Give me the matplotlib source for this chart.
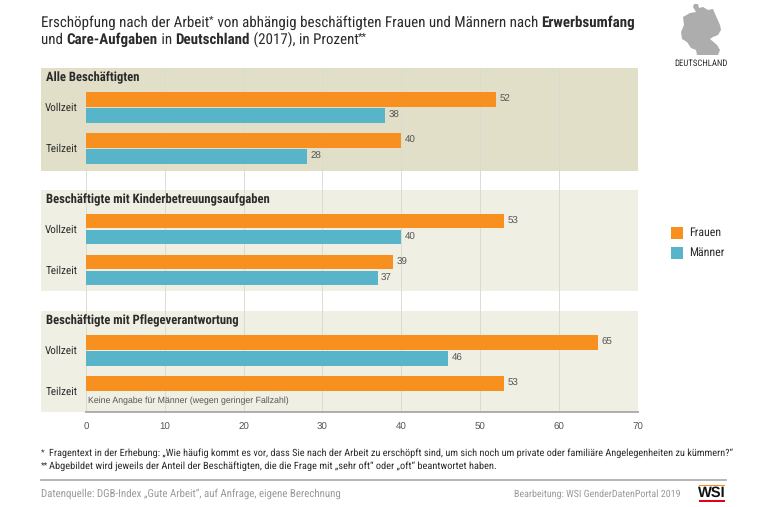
import matplotlib
matplotlib.use('Agg')
import matplotlib.pyplot as plt
from matplotlib.patches import Rectangle, Polygon

plt.rcParams['font.family'] = ['Roboto Condensed', 'DejaVu Sans']
plt.rcParams['text.hinting'] = 'no_hinting'

# ============ Data ============
panels = ['Alle Beschäftigten', 'Beschäftigte mit Kinderbetreuungsaufgaben', 'Beschäftigte mit Pflegeverantwortung']
rows = ['Vollzeit', 'Teilzeit']
frauen = [[52, 40], [53, 39], [65, 53]]
maenner = [[38, 28], [40, 37], [46, None]]
xticks = [0, 10, 20, 30, 40, 50, 60, 70]

ORANGE = '#f7901e'
BLUE = '#58b5c9'
TXT = '#2b2b2b'
GREY = '#9a9a9a'
NUM = '#555555'

W, H = 768, 507
X0, X1 = 86, 637.5
Y0, Y1 = 68, 412
panel_top = [68, 190, 311]
panel_bot = [170.5, 291, 412]
bar_top = [92, 213.5, 335]
panel_col = ['#e1dfc8', '#f0efe4', '#f0efe4']

germany = [(694, 4), (698, 4), (699, 8), (703, 7), (708, 10), (713, 9), (716, 16), (720, 25),
           (721, 30), (718, 35), (713, 37), (710, 39), (717, 45), (720, 50), (718, 55), (697, 55),
           (696, 50), (691, 48), (687, 42), (682, 39), (681, 32), (684, 25), (683, 17), (690, 13),
           (696, 12), (693, 7)]

fig = plt.figure(figsize=(W / 100, H / 100), dpi=100)
bg = fig.add_axes([0, 0, 1, 1])
bg.set_xlim(0, W)
bg.set_ylim(H, 0)
bg.axis('off')

# panels
for top, bot, c in zip(panel_top, panel_bot, panel_col):
    bg.add_patch(Rectangle((41, top), X1 - 41, bot - top, fc=c, ec='none', zorder=1))


def runs(x, y, parts, size, color=TXT):
    # parts: (text, bold), placed one after another
    r = fig.canvas.get_renderer()
    for s, b in parts:
        raised = s.startswith('^')
        s = s[1:] if raised else s
        t = bg.text(x, y - (4 if raised else 0), s, fontsize=size * (0.7 if raised else 1),
                    fontweight='bold' if b else 'normal', color=color, va='baseline', zorder=5)
        x = t.get_window_extent(r).x1


# title
runs(41, 26.5, [('Erschöpfung nach der Arbeit', False), ('^*', False),
                (' von abhängig beschäftigten Frauen und Männern nach ', False),
                ('Erwerbsumfang', True)], 10.78)
runs(41, 43.5, [('und ', False), ('Care-Aufgaben', True), (' in ', False), ('Deutschland', True),
                (' (2017), in Prozent', False), ('^**', False)], 10.78)

# map
bg.add_patch(Polygon(germany, closed=True, fc='#adadad', ec='none', zorder=2))
bg.text(701, 63.5, 'DEUTSCHLAND', fontsize=6.3, color=TXT, ha='center', va='center')

# bars
ax = fig.add_axes([X0 / W, 1 - Y1 / H, (X1 - X0) / W, (Y1 - Y0) / H])
ax.patch.set_alpha(0)
ax.set_xlim(0, 70)
ax.set_ylim(Y1, Y0)
bar_h = 14.5
for i, name in enumerate(panels):
    # text goes on ax so that the grid stays behind it
    ax.text(46, panel_top[i] + 9.5, name, fontsize=9.08, fontweight='bold', color=TXT, va='center',
            zorder=5, transform=bg.transData, clip_on=False)
    for j, row in enumerate(rows):
        y = bar_top[i] + j * 41
        ax.text(78, y + 16, row, fontsize=8.0, color=TXT, ha='right', va='center',
                zorder=5, transform=bg.transData, clip_on=False)
        ax.barh(y + bar_h / 2, frauen[i][j], height=bar_h, color=ORANGE, zorder=3)
        ax.text(frauen[i][j] + 0.45, y + bar_h / 2 + 0.5, str(frauen[i][j]), fontsize=7,
                family='Liberation Sans', color=NUM, va='center')
        if maenner[i][j] is not None:
            ax.barh(y + 16 + bar_h / 2, maenner[i][j], height=bar_h, color=BLUE, zorder=3)
            ax.text(maenner[i][j] + 0.45, y + 16 + bar_h / 2 + 0.5, str(maenner[i][j]), fontsize=7,
                    family='Liberation Sans', color=NUM, va='center')
        else:
            ax.text(0.3, y + 24.5, 'Keine Angabe für Männer (wegen geringer Fallzahl)', fontsize=6.27,
                    family='Liberation Sans', color=NUM, va='center')

ax.set_xticks(xticks)
ax.set_yticks([])
ax.tick_params(axis='x', length=0, pad=8, labelsize=7, labelcolor=NUM)
for lab in ax.get_xticklabels():
    lab.set_family('Liberation Sans')
ax.grid(axis='x', color='#dcdbd0', lw=0.7, zorder=0)
ax.set_axisbelow(True)
for s in ['top', 'left', 'right']:
    ax.spines[s].set_visible(False)
ax.spines['bottom'].set_color('#a8a8a8')
ax.spines['bottom'].set_linewidth(1.3)

# legend
for y, c, lab in [(232.5, ORANGE, 'Frauen'), (252.5, BLUE, 'Männer')]:
    bg.add_patch(Rectangle((671, y - 6), 12, 12, fc=c, ec='none'))
    bg.text(689.5, y, lab, fontsize=8.6, color=TXT, va='center')

# footnotes
bg.text(41, 453.5, '*', fontsize=6, color=TXT, va='center')
bg.text(49, 453, 'Fragentext in der Erhebung: „Wie häufig kommt es vor, dass Sie nach der Arbeit zu erschöpft sind, '
        'um sich noch um private oder familiäre Angelegenheiten zu kümmern?“', fontsize=7.36, color=TXT, va='center')
bg.text(41, 466.5, '**', fontsize=6, color=TXT, va='center')
bg.text(49, 466, 'Abgebildet wird jeweils der Anteil der Beschäftigten, die die Frage mit „sehr oft“ oder „oft“ '
        'beantwortet haben.', fontsize=7.5, color=TXT, va='center')
bg.plot([41, 726], [479.5, 479.5], color='#a8a8a8', lw=1.2)

bg.text(41, 494, 'Datenquelle: DGB-Index „Gute Arbeit“, auf Anfrage, eigene Berechnung', fontsize=7.84, color=GREY, va='center')
bg.text(681, 494, 'Bearbeitung: WSI GenderDatenPortal 2019', fontsize=7.23, color=GREY, ha='right', va='center')

# logo
bg.add_patch(Rectangle((699, 485), 26, 1, fc=ORANGE, ec='none'))
bg.add_patch(Rectangle((699, 500), 26, 2, fc='#e2001a', ec='none'))
bg.text(712, 493, 'WSI', fontsize=10.5, family='Liberation Sans', fontweight='bold', color='#111111', ha='center', va='center')

fig.savefig('out.png', dpi=100)
